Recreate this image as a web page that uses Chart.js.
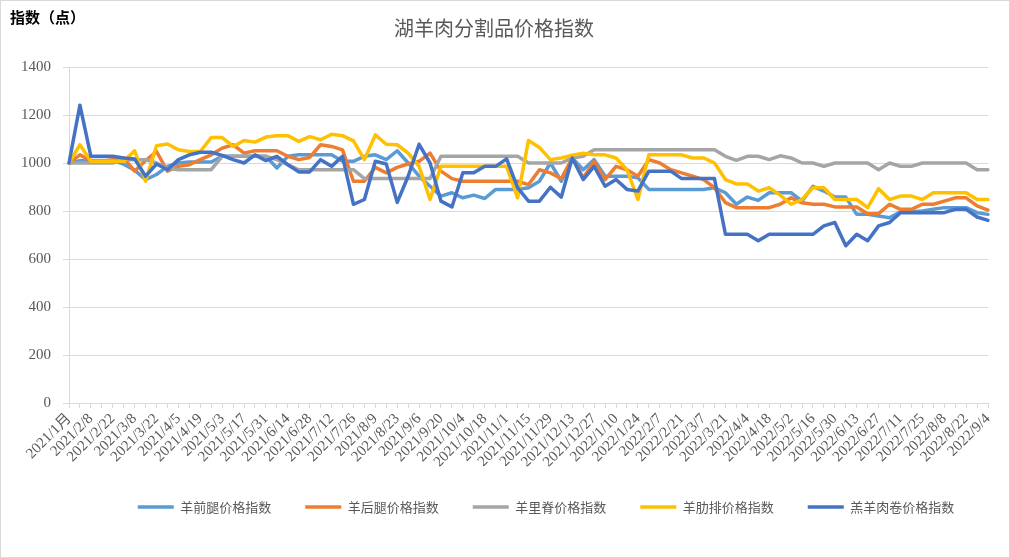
<!DOCTYPE html>
<html>
<head>
<meta charset="utf-8">
<script src="https://cdn.jsdelivr.net/npm/chart.js@4"></script>
<style>
body { margin: 0; background: #fff; }
#wrap { position: relative; width: 1010px; height: 558px; }
#frame { position: absolute; left: 0; top: 0; width: 1008px; height: 556px; border: 1px solid #d9d9d9; pointer-events: none; }
#unit { position: absolute; left: 10px; top: 6px; font: bold 15px 'Noto Sans CJK SC'; color: #000; }
</style>
</head>
<body>
<div id="wrap">
<canvas id="myChart" width="1010" height="558"></canvas>
<div id="unit">指数（点）</div>
<div id="frame"></div>
</div>
<script>
labels = [
    '2021/1月', '2021/2/1', '2021/2/8', '2021/2/15', '2021/2/22', '2021/3/1', '2021/3/8', '2021/3/15', '2021/3/22', '2021/3/29',
    '2021/4/5', '2021/4/12', '2021/4/19', '2021/4/26', '2021/5/3', '2021/5/10', '2021/5/17', '2021/5/24', '2021/5/31', '2021/6/7',
    '2021/6/14', '2021/6/21', '2021/6/28', '2021/7/5', '2021/7/12', '2021/7/19', '2021/7/26', '2021/8/2', '2021/8/9', '2021/8/16',
    '2021/8/23', '2021/8/30', '2021/9/6', '2021/9/13', '2021/9/20', '2021/9/27', '2021/10/4', '2021/10/11', '2021/10/18', '2021/10/25',
    '2021/11/1', '2021/11/8', '2021/11/15', '2021/11/22', '2021/11/29', '2021/12/6', '2021/12/13', '2021/12/20', '2021/12/27', '2022/1/3',
    '2022/1/10', '2022/1/17', '2022/1/24', '2022/1/31', '2022/2/7', '2022/2/14', '2022/2/21', '2022/2/28', '2022/3/7', '2022/3/14',
    '2022/3/21', '2022/3/28', '2022/4/4', '2022/4/11', '2022/4/18', '2022/4/25', '2022/5/2', '2022/5/9', '2022/5/16', '2022/5/23',
    '2022/5/30', '2022/6/6', '2022/6/13', '2022/6/20', '2022/6/27', '2022/7/4', '2022/7/11', '2022/7/18', '2022/7/25', '2022/8/1',
    '2022/8/8', '2022/8/15', '2022/8/22', '2022/8/29', '2022/9/4'
]

// 羊前腿
qiantui = [
    1000, 1010, 1010, 1010, 1010, 995, 970, 931, 952, 986,
    1000, 1004, 1004, 1004, 1028, 1028, 1028, 1028, 1028, 979,
    1028, 1034, 1034, 1034, 1034, 1007, 1007, 1028, 1034, 1014,
    1051, 1000, 945, 903, 862, 876, 855, 866, 852, 890,
    890, 890, 897, 924, 1000, 924, 1021, 972, 1014, 945,
    945, 945, 938, 890, 890, 890, 890, 890, 890, 897,
    876, 828, 858, 844, 876, 876, 876, 841, 903, 883,
    858, 858, 786, 786, 779, 772, 797, 797, 800, 807,
    814, 814, 814, 793, 786
]

// 羊后腿
houtui = [
    1000, 1034, 1007, 1007, 1014, 1021, 966, 1010, 1048, 966,
    986, 993, 1014, 1034, 1062, 1076, 1041, 1051, 1051, 1051,
    1028, 1014, 1023, 1076, 1069, 1055, 924, 924, 982, 959,
    982, 996, 1007, 1041, 966, 935, 924, 924, 924, 924,
    924, 924, 910, 972, 959, 935, 1021, 938, 1007, 931,
    986, 972, 945, 1014, 1000, 972, 959, 945, 931, 897,
    835, 814, 814, 814, 814, 828, 855, 834, 828, 828,
    817, 817, 817, 789, 789, 828, 807, 807, 828, 828,
    841, 855, 855, 821, 804
]

// 羊里脊
liji = [
    1000, 1000, 1000, 1000, 1000, 1014, 1014, 1014, 1000, 979,
    972, 972, 972, 972, 1028, 1028, 1028, 1028, 1028, 1014,
    993, 972, 972, 972, 972, 972, 972, 935, 935, 935,
    935, 935, 935, 935, 1028, 1028, 1028, 1028, 1028, 1028,
    1028, 1028, 1000, 1000, 1000, 1000, 1021, 1028, 1055, 1055,
    1055, 1055, 1055, 1055, 1055, 1055, 1055, 1055, 1055, 1055,
    1028, 1011, 1028, 1028, 1014, 1030, 1021, 1000, 1000, 986,
    1000, 1000, 1000, 1000, 972, 1000, 986, 986, 1000, 1000,
    1000, 1000, 1000, 972, 972
]

// 羊肋排
leipai = [
    1000, 1076, 1007, 1007, 1007, 1007, 1051, 924, 1072, 1079,
    1055, 1048, 1048, 1106, 1106, 1069, 1094, 1087, 1108, 1114,
    1114, 1090, 1110, 1097, 1120, 1114, 1092, 1014, 1117, 1078,
    1076, 1041, 986, 848, 986, 986, 986, 986, 986, 986,
    986, 855, 1094, 1065, 1014, 1021, 1032, 1041, 1034, 1034,
    1021, 972, 848, 1034, 1034, 1034, 1034, 1021, 1021, 1000,
    931, 913, 913, 883, 897, 866, 828, 848, 897, 897,
    848, 848, 848, 814, 893, 848, 862, 862, 848, 876,
    876, 876, 876, 848, 848
]

// 羔羊肉卷
roujuan = [
    1000, 1241, 1028, 1028, 1028, 1021, 1017, 945, 996, 972,
    1014, 1034, 1045, 1045, 1032, 1014, 1000, 1034, 1010, 1028,
    993, 963, 963, 1014, 986, 1028, 828, 848, 1007, 996,
    836, 945, 1078, 1000, 841, 817, 959, 959, 986, 986,
    1017, 897, 841, 841, 899, 858, 1021, 931, 986, 903,
    931, 890, 883, 966, 966, 966, 935, 935, 935, 935,
    703, 703, 703, 676, 703, 703, 703, 703, 703, 738,
    752, 655, 703, 676, 738, 752, 793, 793, 793, 793,
    793, 807, 807, 775, 761
]

var seriesNames = ['羊前腿价格指数', '羊后腿价格指数', '羊里脊价格指数', '羊肋排价格指数', '羔羊肉卷价格指数'];
var seriesData = [qiantui, houtui, liji, leipai, roujuan];
var seriesColors = ['#5B9BD5', '#ED7D31', '#A5A5A5', '#FFC000', '#4472C4'];

var cjk = "'Noto Sans CJK SC', sans-serif";
var serif = "'Liberation Serif', 'Noto Sans CJK SC', serif";

// move the legend row so it sits where the original one is
var legendShift = {
    id: 'legendShift',
    afterLayout: function (chart) {
        chart.legend.left += 52;
        chart.legend.right += 52;
    }
};

function renderChart() {
    var ctx = document.getElementById('myChart').getContext('2d');
    var datasets = seriesData.map(function (d, i) {
        return {
            label: seriesNames[i],
            data: d,
            borderColor: seriesColors[i],
            backgroundColor: seriesColors[i],
            borderWidth: 3.5,
            pointRadius: 0,
            borderJoinStyle: 'round',
            borderCapStyle: 'round',
            tension: 0,
            order: 4 - i
        };
    });

    new Chart(ctx, {
        type: 'line',
        data: { labels: labels, datasets: datasets },
        plugins: [legendShift],
        options: {
            responsive: false,
            animation: false,
            events: [],
            layout: { padding: { left: 0, right: 22, top: 10, bottom: 34.5 } },
            plugins: {
                title: {
                    display: true,
                    text: '湖羊肉分割品价格指数',
                    color: '#595959',
                    font: { family: cjk, size: 20, weight: 'normal', lineHeight: 1.2 },
                    padding: { top: 6, bottom: 27 }
                },
                legend: {
                    position: 'bottom',
                    labels: {
                        usePointStyle: true,
                        pointStyle: 'line',
                        pointStyleWidth: 36,
                        padding: 34,
                        color: '#595959',
                        font: { family: cjk, size: 13 },
                        sort: function (a, b) { return a.datasetIndex - b.datasetIndex; }
                    }
                },
                tooltip: { enabled: false }
            },
            scales: {
                x: {
                    offset: false,
                    grid: { display: true, drawOnChartArea: false, drawTicks: true, tickLength: 5, color: '#d9d9d9' },
                    border: { color: '#d9d9d9' },
                    ticks: {
                        autoSkip: false,
                        minRotation: 45,
                        maxRotation: 45,
                        padding: 2,
                        color: '#595959',
                        font: { family: serif, size: 15 },
                        callback: function (v, i) { return i % 2 === 0 ? labels[i] : ''; }
                    },
                    afterFit: function (s) { s.height = 63.5; }
                },
                y: {
                    min: 0,
                    max: 1400,
                    grid: { color: '#d9d9d9', tickLength: 6 },
                    border: { color: '#d9d9d9' },
                    ticks: {
                        stepSize: 200,
                        padding: 12,
                        color: '#595959',
                        font: { family: serif, size: 15 },
                        callback: function (v) { return String(v); }
                    },
                    afterFit: function (s) { s.width = 69; }
                }
            }
        }
    });
}

renderChart();
</script>
</body>
</html>
